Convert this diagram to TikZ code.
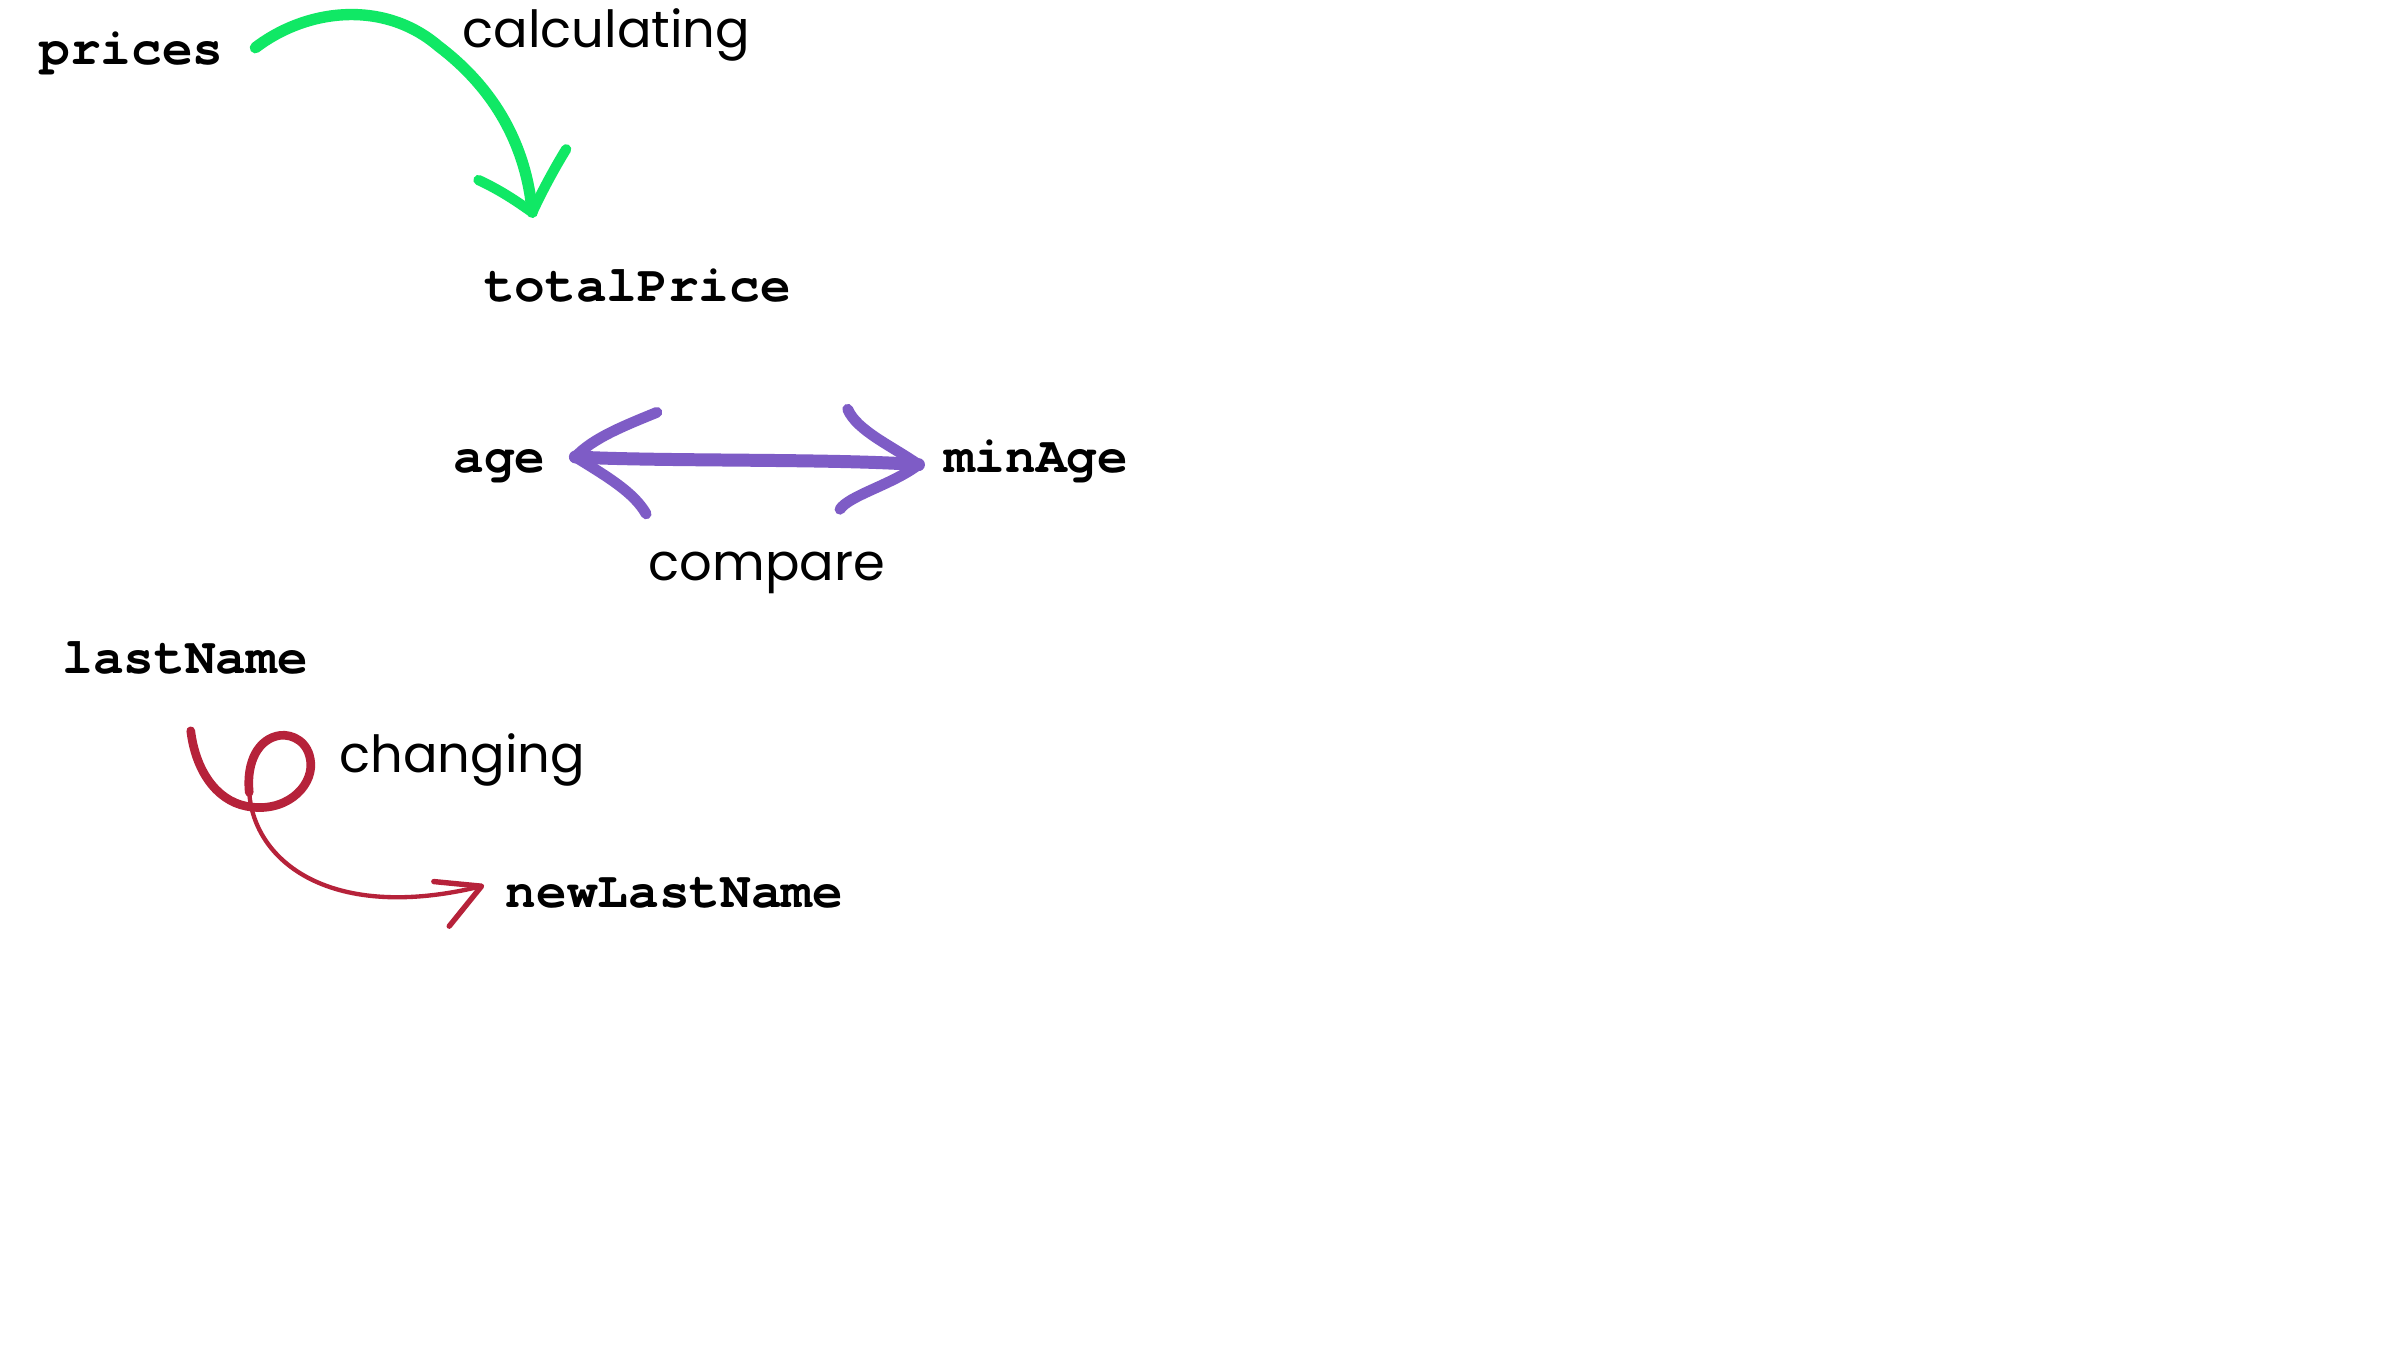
\documentclass[tikz,border=0pt]{standalone}
\usepackage{fontspec}
\setmainfont{Poppins}
\newfontfamily\codefont{TeX Gyre Cursor}
\definecolor{gr}{RGB}{16,232,101}
\definecolor{pu}{RGB}{126,92,198}
\definecolor{rd}{RGB}{182,34,58}
\begin{document}
\begin{tikzpicture}[x=0.01cm,y=-0.01cm,
  code/.style={inner sep=0,anchor=base west,font=\codefont\bfseries\fontsize{9.45}{11}\selectfont},
  lbl/.style={inner sep=0,anchor=base west,font=\fontsize{9.45}{12}\selectfont},
  stroke/.style={line cap=round,line join=round}]
\fill[white] (0,0) rectangle (1560,877.5);
\useasboundingbox (0,0) rectangle (1560,877.5);

% texts
\node[code] (prices) at (25,42) {prices};
\node[lbl] (calc) at (300,31) {calculating};
\node[code] (total) at (314,196) {totalPrice};
\node[code] (age) at (294,307) {age};
\node[code] (minage) at (613,307) {minAge};
\node[lbl] (compare) at (421,377) {compare};
\node[code] (lastname) at (40,438) {lastName};
\node[lbl] (changing) at (220,502) {changing};
\node[code] (newlast) at (328,590) {newLastName};

% green arrow
\coordinate (g0) at (166,31);
\coordinate (gt) at (346,138);
\draw[gr, line width=2.1pt, stroke] (g0) .. controls (200,5) and (250,0) .. (285,30)
  .. controls (322,58) and (342,95) .. (gt);
\draw[gr, line width=1.9pt, stroke] (311,117) .. controls (326,124) and (336,131) .. (gt)
  .. controls (352,125) and (360,110) .. (368,97);

% purple double arrow
\coordinate (pl) at (374,297);
\coordinate (pr) at (597,302);
\draw[pu, line width=2.4pt, stroke] (pl) .. controls (430,300) and (540,298) .. (pr);
\draw[pu, line width=2pt, stroke] (427,268) .. controls (405,277) and (385,285) .. (pl)
  .. controls (395,310) and (412,320) .. (420,334);
\draw[pu, line width=2pt, stroke] (551,266) .. controls (557,280) and (580,290) .. (pr)
  .. controls (580,315) and (552,322) .. (546,331);

% red arrow
\coordinate (r0) at (124,475);
\coordinate (rl) at (162,515);
\coordinate (rt) at (313,576);
\draw[rd, line width=1.6pt, stroke] (r0) .. controls (127,500) and (140,520) .. (160,524)
  .. controls (185,529) and (203,512) .. (202,496)
  .. controls (201,482) and (190,477) .. (182,478)
  .. controls (168,480) and (160,495) .. (rl);
\draw[rd, line width=0.8pt, stroke] (rl) .. controls (165,560) and (215,600) .. (rt);
\draw[rd, line width=1pt, stroke] (282,573) -- (rt) -- (292,602);
\end{tikzpicture}
\end{document}
